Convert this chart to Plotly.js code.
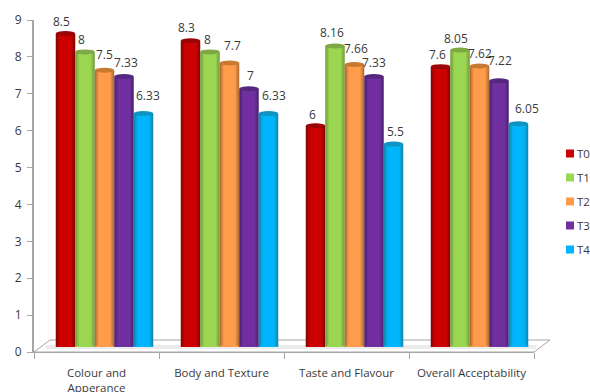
<!DOCTYPE html>
<html>
<head>
<meta charset="utf-8">
<script src="https://cdn.plot.ly/plotly-3.0.1.min.js"></script>
<style>html,body{margin:0;padding:0;background:#fff;overflow:hidden}</style>
</head>
<body>
<div id="chart" style="width:590px;height:392px"></div>
<script>
// Sensory scores per attribute and treatment
const categories = ['Colour and<br>Apperance', 'Body and Texture', 'Taste and Flavour', 'Overall Acceptability'];
const seriesNames = ['T0', 'T1', 'T2', 'T3', 'T4'];
const T0 = [8.5, 8.3, 6, 7.6];
const T1 = [8, 8, 8.16, 8.05];
const T2 = [7.5, 7.7, 7.66, 7.62];
const T3 = [7.33, 7, 7.33, 7.22];
const T4 = [6.33, 6.33, 5.5, 6.05];
const seriesValues = [T0, T1, T2, T3, T4];
const yTicks = [0, 1, 2, 3, 4, 5, 6, 7, 8, 9];

// Cylinder shading: edge, body and cap tones for each series
const bodyColors = ['#cc0000', '#9bd652', '#ff9c4b', '#7030a0', '#00b5fb'];
const edgeColors = ['#7d0606', '#6f9a38', '#a9672c', '#47206b', '#1282a8'];
const capColors = ['#9c0505', '#7da843', '#c97a32', '#55287f', '#0f93c0'];

// Pixel-placed label offsets (dx, dy above the bar top), by category then series
const labelOffsets = [
  [[-4, 12], [-4, 12], [0, 16], [2, 14], [4, 18]],
  [[-4, 13], [-3, 12], [3, 17], [1, 13], [5, 18]],
  [[-3, 11], [-3, 13], [1, 16], [0, 14], [2, 13]],
  [[-3, 12], [-4, 12], [0, 12], [1, 20], [8, 15]]
];

const W = 590, H = 392;
const plotLeft = 34, plotRight = 534, plotTop = 20, plotBottom = 352;
const depthX = 8, depthY = 5;           // bars stand slightly back on the floor
const px = v => v / W, py = v => 1 - v / H;
const slot = 0.156;                     // one bar as a share of its category
const textFont = 'Open Sans, sans-serif';

const traces = seriesNames.map((name, s) => ({
  type: 'bar', name, legendgroup: name,
  x: categories, y: seriesValues[s],
  xaxis: 'x2', yaxis: 'y2',
  marker: {color: bodyColors[s], line: {width: 0}},
  hoverinfo: 'x+y+name'
}));

// Axis-only trace so the front axes are laid out
traces.push({type: 'bar', x: categories, y: categories.map(() => 0), showlegend: false,
  xaxis: 'x', yaxis: 'y', hoverinfo: 'skip', marker: {color: 'rgba(0,0,0,0)'}});

const shapes = [
  // Floor of the 3D plot area
  {type: 'path', xref: 'paper', yref: 'paper', layer: 'below',
   path: `M${px(plotLeft)},${py(plotBottom)} L${px(50)},${py(340)} L${px(550)},${py(340)} L${px(plotRight)},${py(plotBottom)} Z`,
   line: {color: '#a6a6a6', width: 1}, fillcolor: '#ffffff'},
  {type: 'rect', xref: 'paper', yref: 'paper', layer: 'below',
   x0: px(46), x1: px(536), y0: py(349), y1: py(345),
   line: {width: 0}, fillcolor: '#ebebeb'}
];
const annotations = [];

seriesValues.forEach((vals, s) => {
  vals.forEach((v, c) => {
    const cx = c + (s - 2) * slot;
    // Top cap and rounded foot of each cylinder
    shapes.push({type: 'circle', xref: 'x2', yref: 'y2', layer: 'above',
      xsizemode: 'pixel', ysizemode: 'pixel', xanchor: cx, yanchor: v,
      x0: -9.7, x1: 9.7, y0: -2.5, y1: 2.5,
      fillcolor: capColors[s], line: {width: 0}});
    shapes.push({type: 'circle', xref: 'x2', yref: 'y2', layer: 'above',
      xsizemode: 'pixel', ysizemode: 'pixel', xanchor: cx, yanchor: 0,
      x0: -9.7, x1: 9.7, y0: -2, y1: 2,
      fillcolor: bodyColors[s], line: {width: 0}});
    const [dx, dy] = labelOffsets[c][s];
    annotations.push({xref: 'x2', yref: 'y2', x: cx, y: v, text: String(v),
      showarrow: false, xanchor: 'center', yanchor: 'middle',
      xshift: dx, yshift: dy, font: {family: textFont, size: 12, color: '#3a3a3a'}});
  });
});

const layout = {
  width: W, height: H,
  margin: {l: 0, r: 0, t: 0, b: 0, autoexpand: false},
  paper_bgcolor: '#ffffff', plot_bgcolor: 'rgba(0,0,0,0)',
  font: {family: textFont, size: 12, color: '#3a3a3a'},
  barmode: 'group', bargap: 0.22, bargroupgap: 0,
  xaxis: {
    domain: [px(plotLeft), px(plotRight)], anchor: 'y', type: 'category',
    categoryorder: 'array', categoryarray: categories, range: [-0.5, 3.5], autorange: false,
    tickson: 'boundaries', ticks: 'outside', ticklen: 6, tickwidth: 1, tickcolor: '#a6a6a6',
    showline: true, linecolor: '#a6a6a6', linewidth: 1, showgrid: false, zeroline: false,
    ticklabelstandoff: 10, tickfont: {size: 11.5}
  },
  yaxis: {
    domain: [py(plotBottom), py(plotTop)], anchor: 'x', range: [0, 9],
    tickmode: 'array', tickvals: yTicks, ticktext: yTicks.map(String),
    ticks: 'outside', ticklen: 5, tickwidth: 1, tickcolor: '#a6a6a6',
    showline: true, linecolor: '#a6a6a6', linewidth: 2, showgrid: false, zeroline: false,
    ticklabelstandoff: 3, tickfont: {size: 12}
  },
  xaxis2: {
    domain: [px(plotLeft + depthX), px(plotRight + depthX)], anchor: 'y2', type: 'category',
    categoryorder: 'array', categoryarray: categories, range: [-0.5, 3.5], autorange: false, visible: false
  },
  yaxis2: {
    domain: [py(plotBottom - depthY), py(plotTop - depthY)], anchor: 'x2', range: [0, 9], autorange: false,
    visible: false
  },
  legend: {
    x: px(531), xanchor: 'left', y: py(139), yanchor: 'top',
    font: {size: 11.5}, tracegroupgap: 5, bgcolor: 'rgba(0,0,0,0)'
  },
  showlegend: true, shapes, annotations
};

Plotly.newPlot('chart', traces, layout, {displayModeBar: false, responsive: false}).then(gd => {
  // Horizontal gradients turn the flat bars into cylinders
  const NS = 'http://www.w3.org/2000/svg';
  const svg = gd.querySelector('svg.main-svg');
  const defs = svg.querySelector('defs') || svg.insertBefore(document.createElementNS(NS, 'defs'), svg.firstChild);
  bodyColors.forEach((body, i) => {
    const g = document.createElementNS(NS, 'linearGradient');
    g.setAttribute('id', 'cyl' + i);
    [[0, edgeColors[i]], [0.22, body], [0.78, body], [1, edgeColors[i]]].forEach(([o, c]) => {
      const st = document.createElementNS(NS, 'stop');
      st.setAttribute('offset', o);
      st.setAttribute('stop-color', c);
      g.appendChild(st);
    });
    defs.appendChild(g);
  });
  gd.querySelectorAll('.subplot.x2y2 .barlayer .trace').forEach((t, i) => {
    t.querySelectorAll('.point path').forEach(p => { p.style.fill = `url(#cyl${i})`; });
  });
  // Compact legend keys: small squares set close to their labels
  const legendBox = gd.querySelector('.legend').getBoundingClientRect();
  gd.querySelectorAll('.legend .traces').forEach(t => {
    const sw = t.querySelector('.legendpoints path');
    if (sw) {
      sw.setAttribute('d', 'M4,4H-4V-4H4Z');
      sw.setAttribute('transform', `translate(${570 - legendBox.left},0)`);
    }
    const label = t.querySelector('text.legendtext');
    if (label) label.setAttribute('x', 577 - legendBox.left);
  });
});
</script>
</body>
</html>
